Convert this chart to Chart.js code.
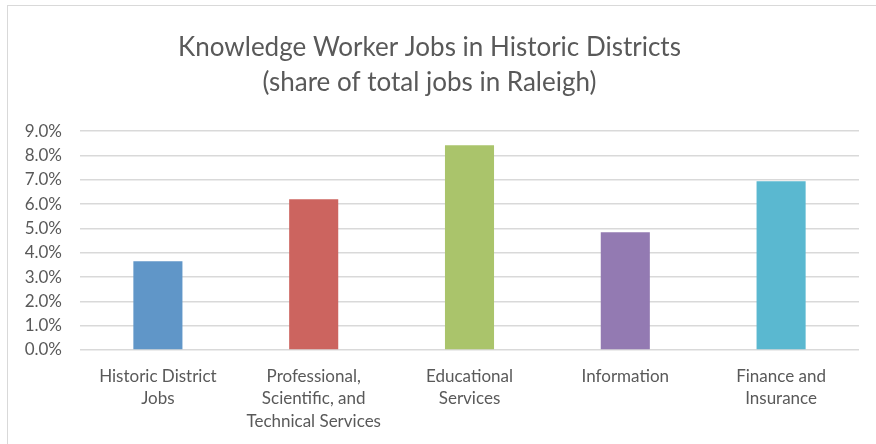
<!DOCTYPE html>
<html>
<head>
<meta charset="utf-8">
<script src="https://cdn.jsdelivr.net/npm/chart.js@4"></script>
<style>
  html, body { margin: 0; padding: 0; background: #fff; overflow: hidden; }
  #wrap { position: relative; width: 876px; height: 444px; }
  #frame { position: absolute; left: 7px; top: 5px; width: 900px; height: 500px; border: 1px solid #d9d9d9; box-sizing: border-box; pointer-events: none; }
  canvas { position: absolute; left: 0; top: 0; }
</style>
</head>
<body>
<div id="wrap">
  <canvas id="c" width="876" height="444"></canvas>
  <div id="frame"></div>
</div>
<script>
const categories = [
  ["Historic District", "Jobs"],
  ["Professional,", "Scientific, and", "Technical Services"],
  ["Educational", "Services"],
  ["Information"],
  ["Finance and", "Insurance"]
];
const shareValues = [3.65, 6.2, 8.42, 4.84, 6.94];
const barColors = ["#6096C8", "#CC645F", "#AAC46B", "#937AB2", "#5AB8D0"];
const titleLines = ["Knowledge Worker Jobs in Historic Districts", "(share of total jobs in Raleigh)"];
const yMin = 0, yMax = 9, yStep = 1;

const FONT = "Lato, 'Open Sans', sans-serif";
const TEXT = "#595959";

new Chart(document.getElementById("c"), {
  type: "bar",
  data: {
    labels: categories,
    datasets: [{
      data: shareValues,
      backgroundColor: barColors,
      borderWidth: 0,
      barPercentage: 0.63,
      categoryPercentage: 0.5
    }]
  },
  options: {
    responsive: false,
    animation: false,
    devicePixelRatio: 1,
    layout: { padding: { left: 0, right: 17, top: 0, bottom: 0 } },
    plugins: {
      legend: { display: false },
      tooltip: { enabled: false },
      title: {
        display: true,
        text: titleLines,
        color: TEXT,
        font: { family: FONT, size: 26, weight: "normal", lineHeight: 1.35 },
        padding: { top: 30, bottom: 31 }
      }
    },
    scales: {
      x: {
        grid: { display: false, drawTicks: false },
        border: { display: false },
        ticks: {
          color: TEXT,
          font: { family: FONT, size: 17, lineHeight: 1.32 },
          padding: 15,
          maxRotation: 0,
          autoSkip: false
        },
        afterFit: (s) => { s.height = 94; }
      },
      y: {
        min: yMin, max: yMax,
        grid: { color: "#d9d9d9", lineWidth: 1.5, drawTicks: false },
        border: { display: false },
        ticks: {
          stepSize: yStep,
          color: TEXT,
          font: { family: FONT, size: 17 },
          padding: 18,
          callback: (v) => v.toFixed(1) + "%"
        },
        afterFit: (s) => { s.width = 80; }
      }
    }
  }
});
</script>
</body>
</html>
